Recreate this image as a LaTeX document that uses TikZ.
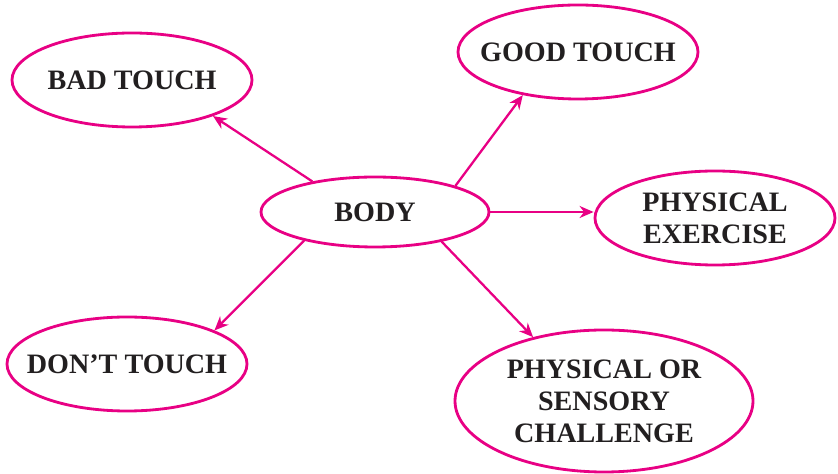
\documentclass[tikz,border=0pt]{standalone}
\usepackage{fontspec}
\setmainfont{Liberation Serif}
\usetikzlibrary{shapes.geometric,arrows.meta}

\definecolor{pinkline}{RGB}{232,0,132}
\definecolor{inktext}{RGB}{34,31,32}

\begin{document}
\begin{tikzpicture}
            \tikzset{bubble/.style={ellipse, draw=pinkline, line width=1.6pt, inner xsep=-0.6cm, inner ysep=0pt,
                text=inktext, align=center, font=\fontsize{16}{18.3}\selectfont\bfseries,
                minimum width=4.8cm, minimum height=1.88cm},
                link/.style={draw=pinkline, line width=1.3pt,
                -{Stealth[length=2.8mm, width=2.4mm, inset=0.9mm]}}}

            \useasboundingbox (0,0) rectangle (16.76,-9.48);

            \node[bubble, minimum width=4.56cm, minimum height=1.4cm] (body) at (7.50,-4.24) {BODY};
            \node[bubble] (bad) at (2.64,-1.60) {BAD TOUCH};
            \node[bubble] (good) at (11.56,-1.04) {GOOD TOUCH};
            \node[bubble] (exercise) at (14.30,-4.36) {PHYSICAL\\EXERCISE};
            \node[bubble] (dont) at (2.54,-7.28) {DON'T TOUCH};
            \node[bubble, minimum width=5.96cm, minimum height=2.84cm] (challenge) at (12.08,-8.02) {PHYSICAL OR\\SENSORY\\CHALLENGE};

            \draw[link] (body.154) -- (bad.-24);
            \draw[link] (body.18) -- (good.218);
            \draw[link] (body.east) -- (exercise.west |- body.east);
            \draw[link] (body.202) -- (dont.21);
            \draw[link] (body.-24) -- (challenge.138);
        \end{tikzpicture}
\end{document}
